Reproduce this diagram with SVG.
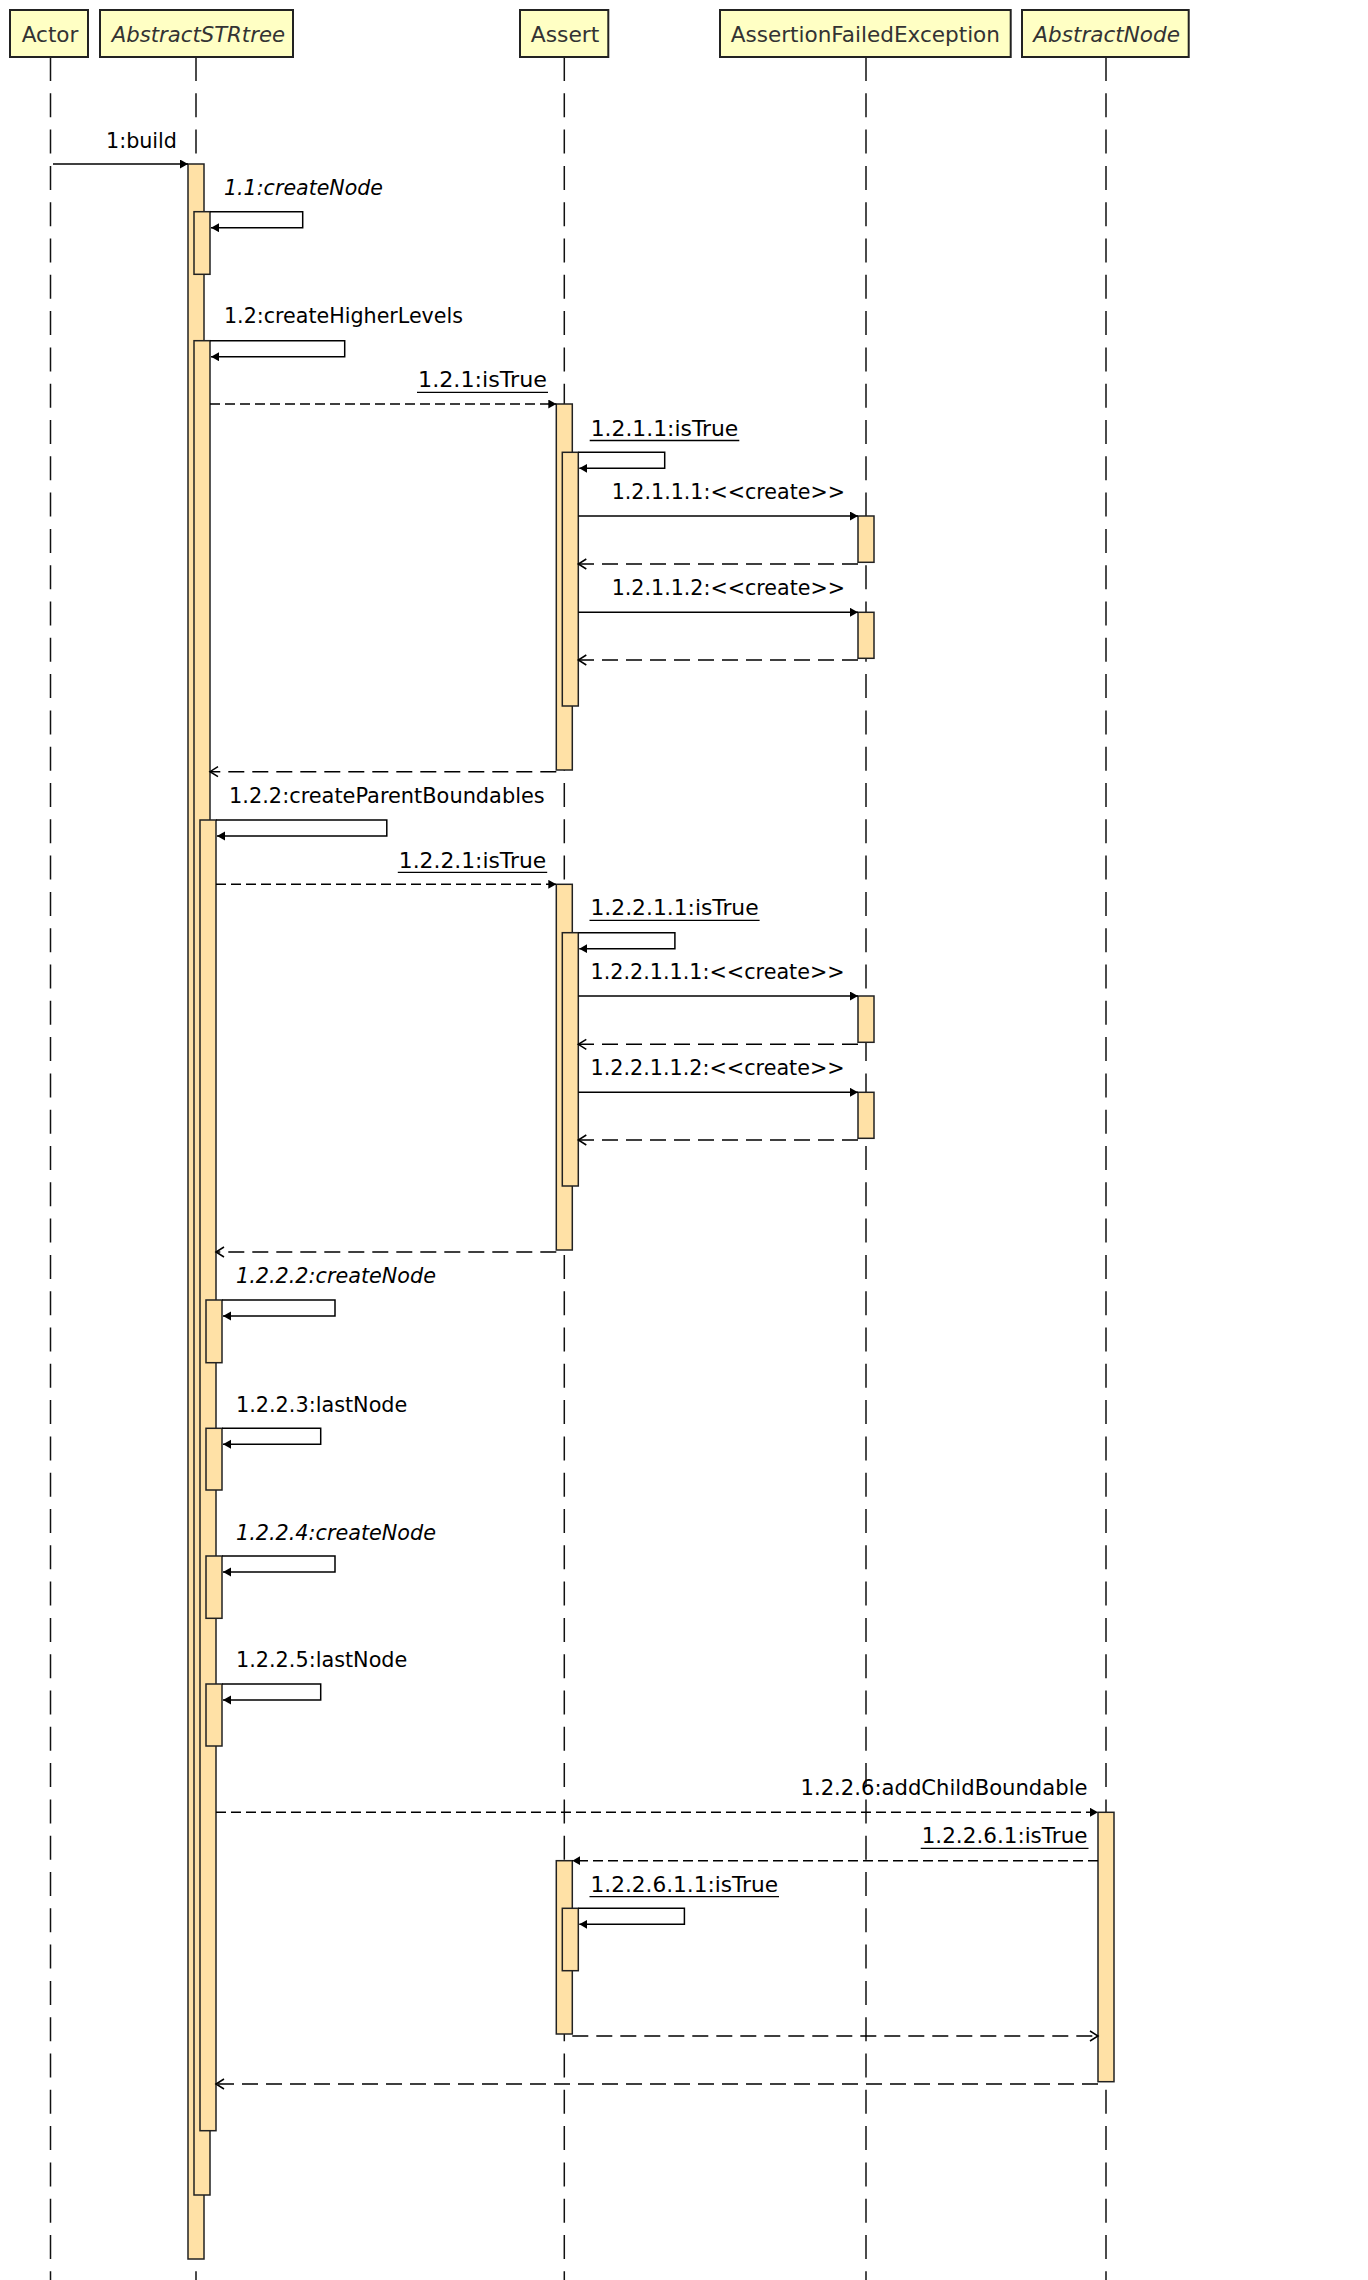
<svg xmlns="http://www.w3.org/2000/svg" width="1368" height="2280" viewBox="0 0 1368 2280">
<style>
.bg{fill:#ffffff}
.hdr{fill:#ffffc4;stroke:#222;stroke-width:2}
.htx{font-family:"DejaVu Sans",sans-serif;font-size:21px;fill:#333}
.it{font-style:italic}
.life{stroke:#111;stroke-width:1.5;stroke-dasharray:24 12.3;fill:none}
.act{fill:#ffe1a6;stroke:#222;stroke-width:1.5}
.msg{font-family:"DejaVu Sans",sans-serif;font-size:21px;fill:#000}
.call{stroke:#000;stroke-width:1.5;fill:none;marker-end:url(#fill)}
.dcall{stroke:#000;stroke-width:1.5;fill:none;stroke-dasharray:10 5;marker-end:url(#fill)}
.ret{stroke:#000;stroke-width:1.5;fill:none;stroke-dasharray:16 8;marker-end:url(#open)}
.ul{stroke:#000;stroke-width:1.3}
</style>
<defs>
<marker id="fill" markerUnits="userSpaceOnUse" markerWidth="10" markerHeight="10" refX="8" refY="4.5" orient="auto" viewBox="0 0 10 10">
<path d="M0,0 L8,4.5 L0,9 z" fill="#000"/>
</marker>
<marker id="open" markerUnits="userSpaceOnUse" markerWidth="12" markerHeight="12" refX="9" refY="6" orient="auto" viewBox="0 0 12 12">
<path d="M1,1 L9,6 L1,11" fill="none" stroke="#000" stroke-width="1.5"/>
</marker>
</defs>
<rect class="bg" x="0" y="0" width="1368" height="2280"/>

<g id="lifelines">
<line class="life" x1="50.5" y1="57" x2="50.5" y2="2280"/>
<line class="life" x1="196" y1="57" x2="196" y2="2280"/>
<line class="life" x1="564.3" y1="57" x2="564.3" y2="2280"/>
<line class="life" x1="866" y1="57" x2="866" y2="2280"/>
<line class="life" x1="1106" y1="57" x2="1106" y2="2280"/>
</g>

<g id="node-actor">
<rect class="hdr" x="10" y="10" width="78" height="47"/>
<text class="htx" x="21.7" y="42" textLength="56.7" lengthAdjust="spacingAndGlyphs">Actor</text>
</g>
<g id="node-abstractstrtree">
<rect class="hdr" x="100" y="10" width="193" height="47"/>
<text class="htx it" x="111.7" y="42" textLength="173.3" lengthAdjust="spacingAndGlyphs">AbstractSTRtree</text>
<rect class="act" x="188" y="164" width="16" height="2095"/>
<rect class="act" x="194" y="211.7" width="16" height="62.6"/>
<rect class="act" x="194" y="340.7" width="16" height="1854.3"/>
<rect class="act" x="200" y="820" width="16" height="1310.7"/>
<rect class="act" x="206" y="1300" width="16" height="62.7"/>
<rect class="act" x="206" y="1428.3" width="16" height="61.7"/>
<rect class="act" x="206" y="1556" width="16" height="62.3"/>
<rect class="act" x="206" y="1684" width="16" height="62"/>
</g>
<g id="node-assert">
<rect class="hdr" x="520" y="10" width="88.3" height="47"/>
<text class="htx" x="530.7" y="42" textLength="68.7" lengthAdjust="spacingAndGlyphs">Assert</text>
<rect class="act" x="556.3" y="404" width="16" height="366"/>
<rect class="act" x="562.3" y="452.3" width="16" height="253.7"/>
<rect class="act" x="556.3" y="884.3" width="16" height="365.7"/>
<rect class="act" x="562.3" y="932.7" width="16" height="253.3"/>
<rect class="act" x="556.3" y="1860.7" width="16" height="173.3"/>
<rect class="act" x="562.3" y="1908.3" width="16" height="62.4"/>
</g>
<g id="node-assertionfailedexception">
<rect class="hdr" x="720" y="10" width="290.7" height="47"/>
<text class="htx" x="730.7" y="42" textLength="269.3" lengthAdjust="spacingAndGlyphs">AssertionFailedException</text>
<rect class="act" x="858" y="516" width="16" height="46.3"/>
<rect class="act" x="858" y="612.3" width="16" height="46"/>
<rect class="act" x="858" y="996" width="16" height="46.3"/>
<rect class="act" x="858" y="1092.3" width="16" height="46"/>
</g>
<g id="node-abstractnode">
<rect class="hdr" x="1022" y="10" width="166.7" height="47"/>
<text class="htx it" x="1033.3" y="42" textLength="146.7" lengthAdjust="spacingAndGlyphs">AbstractNode</text>
<rect class="act" x="1098" y="1812.3" width="16" height="269.4"/>
</g>

<g id="connectors">
<line class="call" x1="53" y1="164" x2="188" y2="164"/>
<polyline class="call" points="210,211.7 302.7,211.7 302.7,227.7 211,227.7"/>
<polyline class="call" points="210,340.7 344.7,340.7 344.7,356.7 211,356.7"/>
<line class="dcall" x1="210" y1="404" x2="556.3" y2="404"/>
<polyline class="call" points="578.3,452.3 664.7,452.3 664.7,468.3 579.3,468.3"/>
<line class="call" x1="578.3" y1="516" x2="858" y2="516"/>
<line class="ret" x1="858" y1="564" x2="578.3" y2="564"/>
<line class="call" x1="578.3" y1="612.3" x2="858" y2="612.3"/>
<line class="ret" x1="858" y1="660" x2="578.3" y2="660"/>
<line class="ret" x1="556.3" y1="771.7" x2="210" y2="771.7"/>
<polyline class="call" points="216,820 386.8,820 386.8,836 217,836"/>
<line class="dcall" x1="216" y1="884.3" x2="556.3" y2="884.3"/>
<polyline class="call" points="578.3,932.7 674.9,932.7 674.9,948.7 579.3,948.7"/>
<line class="call" x1="578.3" y1="996" x2="858" y2="996"/>
<line class="ret" x1="858" y1="1044.3" x2="578.3" y2="1044.3"/>
<line class="call" x1="578.3" y1="1092.3" x2="858" y2="1092.3"/>
<line class="ret" x1="858" y1="1140" x2="578.3" y2="1140"/>
<line class="ret" x1="556.3" y1="1252" x2="216" y2="1252"/>
<polyline class="call" points="222,1300 335,1300 335,1316 223,1316"/>
<polyline class="call" points="222,1428.3 320.7,1428.3 320.7,1444.3 223,1444.3"/>
<polyline class="call" points="222,1556 335,1556 335,1572 223,1572"/>
<polyline class="call" points="222,1684 320.7,1684 320.7,1700 223,1700"/>
<line class="dcall" x1="216" y1="1812.3" x2="1098" y2="1812.3"/>
<line class="dcall" x1="1098" y1="1860.7" x2="572.3" y2="1860.7"/>
<polyline class="call" points="578.3,1908.3 684.4,1908.3 684.4,1924.3 579.3,1924.3"/>
<line class="ret" x1="572.3" y1="2036" x2="1098" y2="2036"/>
<line class="ret" x1="1098" y1="2084" x2="216" y2="2084"/>
</g>

<g id="labels">
<text class="msg" x="106" y="148" textLength="71" lengthAdjust="spacingAndGlyphs">1:build</text>
<text class="msg it" x="224" y="195" textLength="159" lengthAdjust="spacingAndGlyphs">1.1:createNode</text>
<text class="msg" x="224" y="323.3" textLength="239" lengthAdjust="spacingAndGlyphs">1.2:createHigherLevels</text>
<text class="msg" x="418" y="387.3" textLength="129" lengthAdjust="spacingAndGlyphs">1.2.1:isTrue</text>
<line class="ul" x1="417" y1="392.3" x2="548" y2="392.3"/>
<text class="msg" x="590.7" y="436" textLength="147.6" lengthAdjust="spacingAndGlyphs">1.2.1.1:isTrue</text>
<line class="ul" x1="589.7" y1="440.5" x2="739.3" y2="440.5"/>
<text class="msg" x="611.7" y="499.3" textLength="233.3" lengthAdjust="spacingAndGlyphs">1.2.1.1.1:&lt;&lt;create&gt;&gt;</text>
<text class="msg" x="611.7" y="595" textLength="233.3" lengthAdjust="spacingAndGlyphs">1.2.1.1.2:&lt;&lt;create&gt;&gt;</text>
<text class="msg" x="229" y="803.3" textLength="315.7" lengthAdjust="spacingAndGlyphs">1.2.2:createParentBoundables</text>
<text class="msg" x="398.8" y="867.7" textLength="147.4" lengthAdjust="spacingAndGlyphs">1.2.2.1:isTrue</text>
<line class="ul" x1="397.8" y1="872.3" x2="547.2" y2="872.3"/>
<text class="msg" x="590.5" y="915" textLength="168.1" lengthAdjust="spacingAndGlyphs">1.2.2.1.1:isTrue</text>
<line class="ul" x1="589.5" y1="920.3" x2="759.6" y2="920.3"/>
<text class="msg" x="590.5" y="979.3" textLength="254.2" lengthAdjust="spacingAndGlyphs">1.2.2.1.1.1:&lt;&lt;create&gt;&gt;</text>
<text class="msg" x="590.5" y="1075" textLength="254.2" lengthAdjust="spacingAndGlyphs">1.2.2.1.1.2:&lt;&lt;create&gt;&gt;</text>
<text class="msg it" x="236" y="1283.3" textLength="200" lengthAdjust="spacingAndGlyphs">1.2.2.2:createNode</text>
<text class="msg" x="236" y="1411.7" textLength="171.3" lengthAdjust="spacingAndGlyphs">1.2.2.3:lastNode</text>
<text class="msg it" x="236" y="1540" textLength="200" lengthAdjust="spacingAndGlyphs">1.2.2.4:createNode</text>
<text class="msg" x="236" y="1667.3" textLength="171.3" lengthAdjust="spacingAndGlyphs">1.2.2.5:lastNode</text>
<text class="msg" x="800.5" y="1795" textLength="287" lengthAdjust="spacingAndGlyphs">1.2.2.6:addChildBoundable</text>
<text class="msg" x="921.7" y="1843.3" textLength="165.8" lengthAdjust="spacingAndGlyphs">1.2.2.6.1:isTrue</text>
<line class="ul" x1="920.7" y1="1848.3" x2="1088.5" y2="1848.3"/>
<text class="msg" x="590.5" y="1891.7" textLength="187.5" lengthAdjust="spacingAndGlyphs">1.2.2.6.1.1:isTrue</text>
<line class="ul" x1="589.5" y1="1896.7" x2="779" y2="1896.7"/>
</g>
</svg>
